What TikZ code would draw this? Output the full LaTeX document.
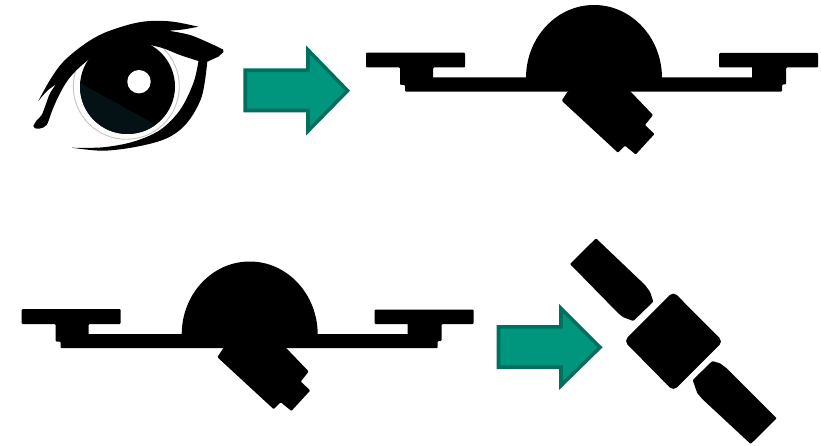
\documentclass[tikz,border=0pt]{standalone}
\definecolor{arrowfill}{HTML}{00967D}
\definecolor{arrowedge}{HTML}{006F5E}
\definecolor{irisdark}{HTML}{041216}
\definecolor{ringgray}{HTML}{C4C4C4}
\tikzset{
  solidblack/.style={fill=black,draw=none},
  softblack/.style={fill=black,draw=none,rounded corners=1pt},
  bigarrow/.style={fill=arrowfill,draw=arrowedge,line width=3.6pt,miter limit=10},
  pics/drone/.style={code={
    \path[softblack] (366,52.7) -- (465,52.7) -- (465,67.5) -- (433,67.5) [sharp corners] -- (433,77.5) -- (752,77.5) -- (752,67.5) [rounded corners=1pt] -- (719,67.5) -- (719,53) -- (818,53) -- (818,67.5) -- (786,67.5) -- (786,84.5) -- (782,84.5) -- (782,91.7) -- (405,91.7) -- (405,85) -- (400,85) -- (400,67.5) -- (366,67.5) -- cycle;
    \path[solidblack] (526,78) .. controls (526,37.7) and (556.4,5) .. (594,5) .. controls (631.6,5) and (662,37.7) .. (662,78) -- cycle;
    \path[softblack] (568,91) -- (561.7,100.7) -- (618,152.7) -- (625,145.7) -- (635.7,154.5) -- (654.5,134) -- (645,125) -- (653,115) -- (630,91) -- cycle;
  }},
}
\begin{document}
\begin{tikzpicture}[x=1pt,y=-1pt]
\useasboundingbox (0,0) rectangle (821,446);
% eye
\draw[ringgray,line width=0.9pt] (126.3,86.3) circle[radius=53];
\fill[black] (127.5,86.5) circle[radius=47.5];
\begin{scope}
  \clip (127.5,86.5) circle[radius=47.5];
  \fill[irisdark] (78,82) -- (160,127) -- (160,140) -- (78,140) -- cycle;
\end{scope}
\fill[white] (139,81.7) circle[radius=11.7];
\path[solidblack]
  plot[smooth,tension=0.55] coordinates {(33.3,126) (37,120) (41.7,115) (46,104) (50,93.3) (56,84.3)}
  -- plot[smooth,tension=0.55] coordinates {(56,84.3) (47,91) (38.3,101)}
  -- plot[smooth,tension=0.55] coordinates {(38.3,101) (50,80) (63.3,61.7) (83.3,45) (103.3,33.3) (130,24.3) (150,21) (173,21.7) (198.3,26.7)}
  -- plot[smooth,tension=0.55] coordinates {(198.3,26.7) (183,29.5) (168.3,30.7)}
  -- plot[smooth,tension=0.55] coordinates {(168.3,30.7) (190,35) (210,43.3) (223,49.5)}
  -- (223.5,52) -- (218.3,56.7)
  -- (207.3,61.7)
  -- plot[smooth,tension=0.55] coordinates {(207.3,61.7) (201.7,96.7) (186.7,123.3) (166.7,138.3) (136.7,146.7) (103,150.7) (71.7,147.7)}
  -- plot[smooth,tension=0.55] coordinates {(71.7,147.7) (103,147.3) (133.3,141.7) (160,130) (180,110) (193.3,83.3) (198.5,61)}
  -- plot[smooth,tension=0.55] coordinates {(198.5,61) (180,55) (163.3,48.3) (146.7,44.3)}
  -- (140,50) -- (100,56) -- (90,58.3)
  -- plot[smooth,tension=0.55] coordinates {(90,58.3) (76.7,70) (66.7,81.7) (58.3,96.7) (51.7,111.7) (46.7,125) (40,128.5) (35,128.3)}
  -- cycle;
% arrows
\draw[bigarrow] (245.2,70.3) -- (308,70.3) -- (308,50) -- (347.5,90.7) -- (308,131) -- (308,110.5) -- (245.2,110.5) -- cycle;
\draw[bigarrow] (498.5,326.8) -- (561,326.8) -- (561,308.5) -- (600,347.3) -- (561,385.5) -- (561,367.2) -- (498.5,367.2) -- cycle;
% drones
\pic at (0,0) {drone};
\pic at (-344.3,256.5) {drone};
% satellite
\path[softblack] (596,238.3) -- (570,264) -- (618.3,313.3) -- (623.3,317.3) -- (633.3,321) -- (653.3,301.7) -- (650,291.7) -- (645,285) -- cycle;
\path[solidblack,rounded corners=5pt] (673.3,291.5) -- (723,341.5) -- (673.3,391) -- (624,341) -- cycle;
\path[softblack] (712.3,361) -- (692.7,380) -- (697.3,393.3) -- (703.3,400) -- (750.7,444) -- (776.7,418.3) -- (726.7,368.3) -- (720,363.3) -- cycle;
\end{tikzpicture}
\end{document}
